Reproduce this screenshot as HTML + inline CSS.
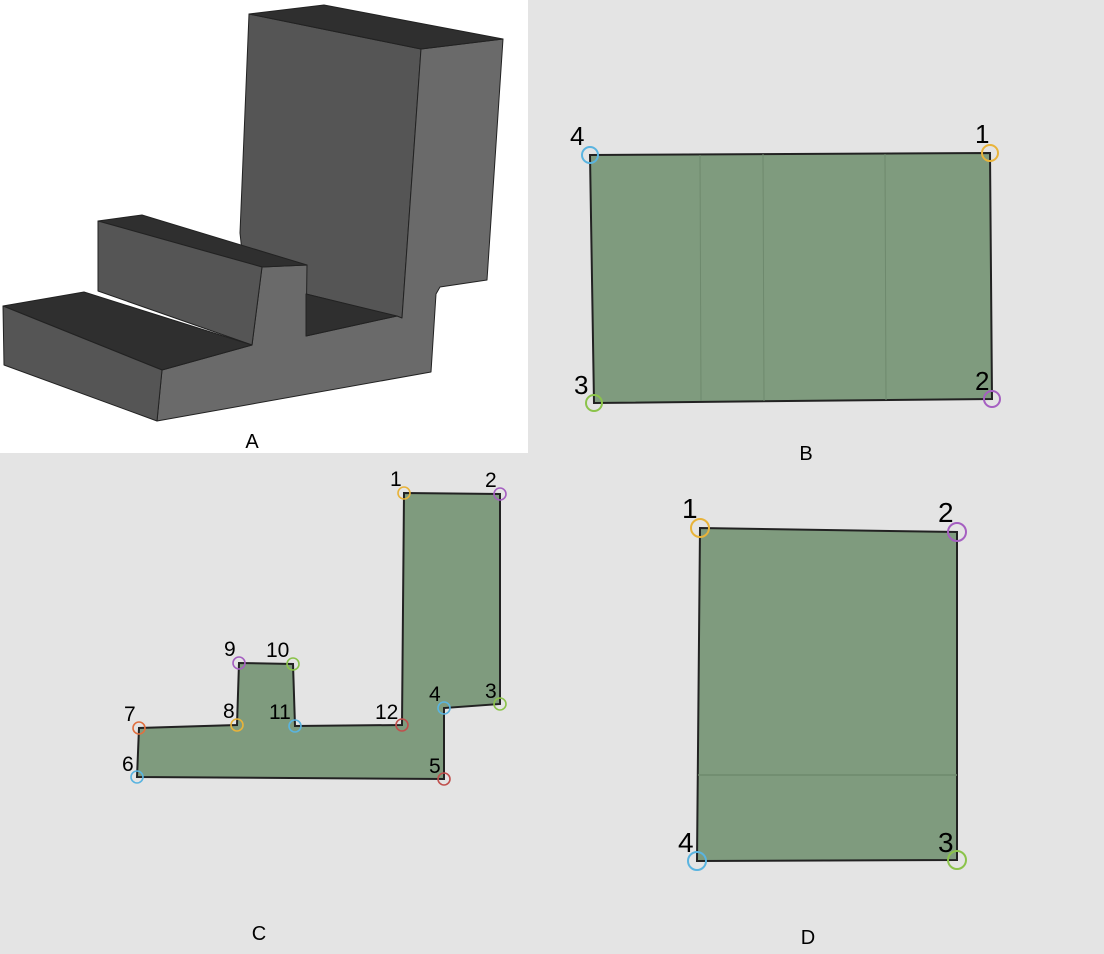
<!DOCTYPE html>
<html><head><style>body{margin:0;background:#e4e4e4}svg{display:block}</style></head><body>
<svg width="1104" height="954" viewBox="0 0 1104 954" font-family="Liberation Sans, sans-serif">
<rect width="1104" height="954" fill="#e4e4e4"/>
<rect x="0" y="0" width="528" height="453" fill="#fff"/>
<g stroke="#222" stroke-width="1" stroke-linejoin="round">
<polygon points="249,14 421,49 402,318 306,294 306,336 252,345 240,233" fill="#555"/>
<polygon points="421,49 503,39 487,280 440,287 436,294 431,372 157,421 162,370 252,345 262,267 307,265 306,336 397,316 402,318" fill="#6a6a6a"/>
<polygon points="249,14 324,5 503,39 421,49" fill="#2f2f2f"/>
<polygon points="306,294 397,316 306,336" fill="#2f2f2f"/>
<polygon points="98,221 142,215 307,265 262,267" fill="#2f2f2f"/>
<polygon points="98,221 262,267 252,345 98,291" fill="#555"/>
<polygon points="3,306 84,292 252,345 162,370" fill="#2f2f2f"/>
<polygon points="3,306 162,370 157,421 4,365" fill="#555"/>
</g>
<text x="252" y="448" font-size="20" text-anchor="middle">A</text>
<text x="806" y="460" font-size="20" text-anchor="middle">B</text>
<text x="259" y="940" font-size="20" text-anchor="middle">C</text>
<text x="808" y="944" font-size="20" text-anchor="middle">D</text>

<polygon points="590,155 990,153 992,399 594,403" fill="#7f9b7e" stroke="#222" stroke-width="2"/>
<g stroke="#6e896d" stroke-width="1"><line x1="700" y1="155" x2="701" y2="401"/><line x1="763" y1="154" x2="764" y2="401"/><line x1="885" y1="154" x2="886" y2="400"/></g>
<g fill="none" stroke-width="2">
<circle cx="590" cy="155" r="8" stroke="#5ab4e0"/><circle cx="990" cy="153" r="8" stroke="#e8b33a"/>
<circle cx="992" cy="399" r="8" stroke="#a55fc1"/><circle cx="594" cy="403" r="8" stroke="#8bc34a"/>
</g>
<g font-size="26"><text x="570" y="145">4</text><text x="975" y="143">1</text><text x="975" y="390">2</text><text x="574" y="394">3</text></g>

<polygon points="404,493 500,494 500,704 444,708 444,779 137,777 139,728 237,725 239,663 293,664 295,726 402,725" fill="#7f9b7e" stroke="#222" stroke-width="2"/>
<g fill="none" stroke-width="1.6">
<circle cx="404" cy="493" r="6" stroke="#e8b33a"/><circle cx="500" cy="494" r="6" stroke="#a55fc1"/>
<circle cx="500" cy="704" r="6" stroke="#8bc34a"/><circle cx="444" cy="708" r="6" stroke="#5ab4e0"/>
<circle cx="444" cy="779" r="6" stroke="#c0504d"/><circle cx="137" cy="777" r="6" stroke="#5ab4e0"/>
<circle cx="139" cy="728" r="6" stroke="#e07040"/><circle cx="237" cy="725" r="6" stroke="#e8b33a"/>
<circle cx="239" cy="663" r="6" stroke="#a55fc1"/><circle cx="293" cy="664" r="6" stroke="#8bc34a"/>
<circle cx="295" cy="726" r="6" stroke="#5ab4e0"/><circle cx="402" cy="725" r="6" stroke="#c0504d"/>
</g>
<g font-size="21"><text x="390" y="486">1</text><text x="485" y="487">2</text><text x="485" y="698">3</text><text x="429" y="701">4</text><text x="429" y="773">5</text><text x="122" y="771">6</text><text x="124" y="721">7</text><text x="223" y="718">8</text><text x="224" y="656">9</text><text x="266" y="657">10</text><text x="269" y="719">11</text><text x="375" y="719">12</text></g>

<polygon points="700,528 957,532 957,860 697,861" fill="#7f9b7e" stroke="#222" stroke-width="2"/>
<line x1="698" y1="775" x2="957" y2="775" stroke="#6e896d" stroke-width="1.5"/>
<g fill="none" stroke-width="2">
<circle cx="700" cy="528" r="9" stroke="#e8b33a"/><circle cx="957" cy="532" r="9" stroke="#a55fc1"/>
<circle cx="957" cy="860" r="9" stroke="#8bc34a"/><circle cx="697" cy="861" r="9" stroke="#5ab4e0"/>
</g>
<g font-size="28"><text x="682" y="518">1</text><text x="938" y="522">2</text><text x="938" y="852">3</text><text x="678" y="852">4</text></g>
</svg>
</body></html>
